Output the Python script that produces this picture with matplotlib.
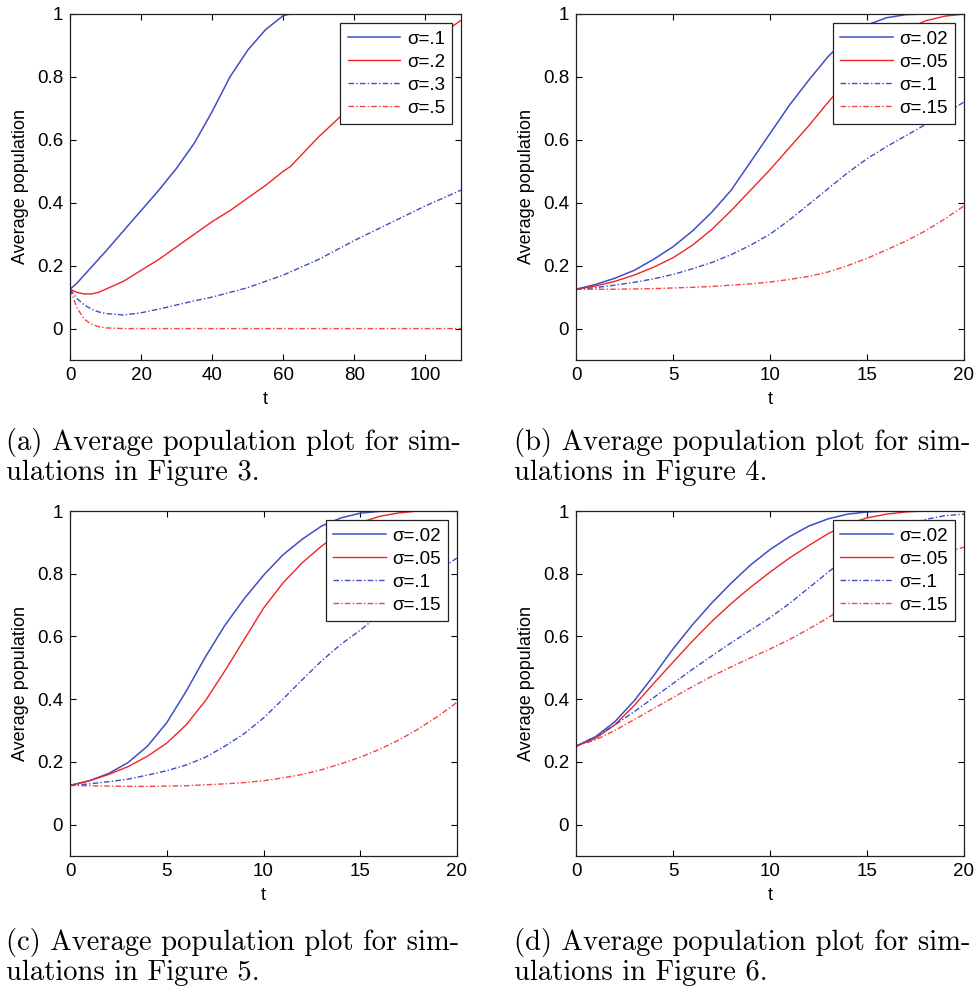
import matplotlib
matplotlib.use('Agg')
import matplotlib.pyplot as plt

# ---- data ----
# (a) Figure 3 simulations
t_a = [0, 2, 4, 6, 8, 10, 15, 20, 25, 30, 35, 40, 45, 50, 55, 60, 62,
       70, 80, 90, 100, 110]
a_s1 = [0.125, 0.145, 0.17, 0.195, 0.22, 0.245, 0.31, 0.375, 0.44, 0.51,
        0.59, 0.69, 0.80, 0.885, 0.95, 0.995, 1.0, 1.0, 1.0, 1.0, 1.0, 1.0]
a_s2 = [0.125, 0.115, 0.11, 0.11, 0.115, 0.125, 0.15, 0.185, 0.22, 0.26,
        0.30, 0.34, 0.375, 0.415, 0.455, 0.50, 0.515, 0.61, 0.715, 0.81,
        0.90, 0.98]
a_s3 = [0.125, 0.095, 0.075, 0.062, 0.053, 0.048, 0.043, 0.05, 0.062,
        0.075, 0.088, 0.10, 0.115, 0.13, 0.15, 0.17, 0.18, 0.22, 0.28,
        0.335, 0.39, 0.44]
a_s4 = [0.125, 0.065, 0.03, 0.014, 0.006, 0.002, 0.0, 0.0, 0.0, 0.0, 0.0,
        0.0, 0.0, 0.0, 0.0, 0.0, 0.0, 0.0, 0.0, 0.0, 0.0, 0.0]
labels_a = ['\u03c3=.1', '\u03c3=.2', '\u03c3=.3', '\u03c3=.5']

# (b)-(d) share the time grid 0..20
t_b = list(range(21))
labels_b = ['\u03c3=.02', '\u03c3=.05', '\u03c3=.1', '\u03c3=.15']

# (b) Figure 4
b_s1 = [0.125, 0.14, 0.16, 0.185, 0.22, 0.26, 0.31, 0.37, 0.44, 0.53,
        0.62, 0.71, 0.79, 0.865, 0.925, 0.965, 0.988, 0.998, 1.0, 1.0, 1.0]
b_s2 = [0.125, 0.135, 0.15, 0.17, 0.195, 0.225, 0.265, 0.315, 0.375, 0.44,
        0.505, 0.575, 0.645, 0.72, 0.79, 0.855, 0.91, 0.95, 0.978, 0.993, 1.0]
b_s3 = [0.125, 0.13, 0.138, 0.147, 0.158, 0.172, 0.19, 0.21, 0.235, 0.265,
        0.30, 0.345, 0.395, 0.445, 0.495, 0.54, 0.578, 0.613, 0.648, 0.683,
        0.72]
b_s4 = [0.125, 0.125, 0.125, 0.126, 0.127, 0.129, 0.131, 0.134, 0.138,
        0.142, 0.148, 0.156, 0.166, 0.18, 0.20, 0.223, 0.25, 0.278, 0.31,
        0.348, 0.39]

# (c) Figure 5
c_s1 = [0.125, 0.14, 0.163, 0.198, 0.25, 0.325, 0.425, 0.535, 0.635, 0.72,
        0.795, 0.86, 0.91, 0.952, 0.978, 0.993, 0.999, 1.0, 1.0, 1.0, 1.0]
c_s2 = [0.125, 0.14, 0.16, 0.185, 0.218, 0.26, 0.318, 0.395, 0.49, 0.59,
        0.69, 0.77, 0.835, 0.888, 0.932, 0.963, 0.983, 0.994, 1.0, 1.0, 1.0]
c_s3 = [0.125, 0.13, 0.137, 0.145, 0.158, 0.172, 0.19, 0.215, 0.25, 0.29,
        0.34, 0.40, 0.462, 0.522, 0.575, 0.62, 0.67, 0.72, 0.768, 0.81, 0.85]
c_s4 = [0.125, 0.124, 0.123, 0.122, 0.122, 0.123, 0.124, 0.127, 0.13,
        0.134, 0.14, 0.149, 0.16, 0.175, 0.194, 0.215, 0.24, 0.27, 0.305,
        0.345, 0.39]

# (d) Figure 6
d_s1 = [0.25, 0.28, 0.328, 0.395, 0.475, 0.56, 0.637, 0.707, 0.77, 0.828,
        0.877, 0.918, 0.952, 0.975, 0.99, 0.997, 1.0, 1.0, 1.0, 1.0, 1.0]
d_s2 = [0.25, 0.275, 0.318, 0.38, 0.45, 0.518, 0.585, 0.648, 0.705, 0.757,
        0.805, 0.85, 0.89, 0.928, 0.958, 0.978, 0.99, 0.997, 1.0, 1.0, 1.0]
d_s3 = [0.25, 0.28, 0.318, 0.36, 0.405, 0.45, 0.495, 0.538, 0.58, 0.62,
        0.66, 0.705, 0.755, 0.805, 0.855, 0.895, 0.93, 0.955, 0.973, 0.985,
        0.99]
d_s4 = [0.25, 0.27, 0.30, 0.335, 0.37, 0.405, 0.44, 0.473, 0.503, 0.532,
        0.56, 0.59, 0.624, 0.66, 0.70, 0.74, 0.778, 0.81, 0.84, 0.865, 0.885]

captions = [
    ('(a) Average population plot for sim-', 'ulations in Figure 3.'),
    ('(b) Average population plot for sim-', 'ulations in Figure 4.'),
    ('(c) Average population plot for sim-', 'ulations in Figure 5.'),
    ('(d) Average population plot for sim-', 'ulations in Figure 6.'),
]

# ---- styling ----
plt.rcParams['font.family'] = ['Liberation Sans', 'DejaVu Sans']
BLUE = '#3d4fc2'
RED = '#f02424'
DASHDOT = (0, (4, 1.6, 1, 1.6))
styles = [
    dict(color=BLUE, lw=1.1, ls='-'),
    dict(color=RED, lw=1.0, ls='-'),
    dict(color=BLUE, lw=1.0, ls=DASHDOT),
    dict(color=RED, lw=1.0, ls=DASHDOT, alpha=0.85),
]

W, H = 977, 991
fig = plt.figure(figsize=(W / 100, H / 100), dpi=100)


def px_axes(x0, y0, x1, y1):
    return fig.add_axes([x0 / W, 1 - y1 / H, (x1 - x0) / W, (y1 - y0) / H])


panels = [
    (px_axes(70, 14, 461, 360), t_a, [a_s1, a_s2, a_s3, a_s4], labels_a,
     110, [0, 20, 40, 60, 80, 100]),
    (px_axes(576, 14, 964, 360), t_b, [b_s1, b_s2, b_s3, b_s4], labels_b,
     20, [0, 5, 10, 15, 20]),
    (px_axes(70, 511, 457, 856), t_b, [c_s1, c_s2, c_s3, c_s4], labels_b,
     20, [0, 5, 10, 15, 20]),
    (px_axes(576, 511, 964, 856), t_b, [d_s1, d_s2, d_s3, d_s4], labels_b,
     20, [0, 5, 10, 15, 20]),
]

for ax, t, series, labels, xmax, xt in panels:
    for y, lab, st in zip(series, labels, styles):
        ax.plot(t, y, label=lab, **st)
    ax.set_xlim(0, xmax)
    ax.set_ylim(-0.1, 1)
    ax.set_xticks(xt)
    ax.set_yticks([0, 0.2, 0.4, 0.6, 0.8, 1])
    ax.set_yticklabels(['0', '0.2', '0.4', '0.6', '0.8', '1'])
    ax.tick_params(direction='in', top=True, right=True, length=4,
                   width=0.8, labelsize=13.5, pad=5)
    for sp in ax.spines.values():
        sp.set_linewidth(0.9)
        sp.set_color('#222222')
    ax.set_xlabel('t', fontsize=13)
    ax.set_ylabel('Average population', fontsize=13)
    ax.xaxis.set_label_coords(0.5, -0.09)
    ax.yaxis.set_label_coords(-0.105, 0.5)
    leg = ax.legend(loc='upper right', bbox_to_anchor=(0.978, 0.974),
                    borderaxespad=0, fontsize=13.5, handlelength=2.8,
                    handletextpad=0.35, labelspacing=0.32, borderpad=0.4,
                    fancybox=False, framealpha=1)
    leg.get_frame().set_edgecolor('#222222')
    leg.get_frame().set_linewidth(0.9)

# ---- sub-captions ----
cap_pos = [(6, 450), (514, 450), (6, 950), (514, 950)]
for (x, y), (l1, l2) in zip(cap_pos, captions):
    fig.text(x / W, 1 - y / H, l1, family='cmr10', fontsize=20.6,
             va='baseline', ha='left')
    fig.text(x / W, 1 - (y + 30) / H, l2, family='cmr10', fontsize=20.6,
             va='baseline', ha='left')

fig.savefig('out.png', dpi=100)
